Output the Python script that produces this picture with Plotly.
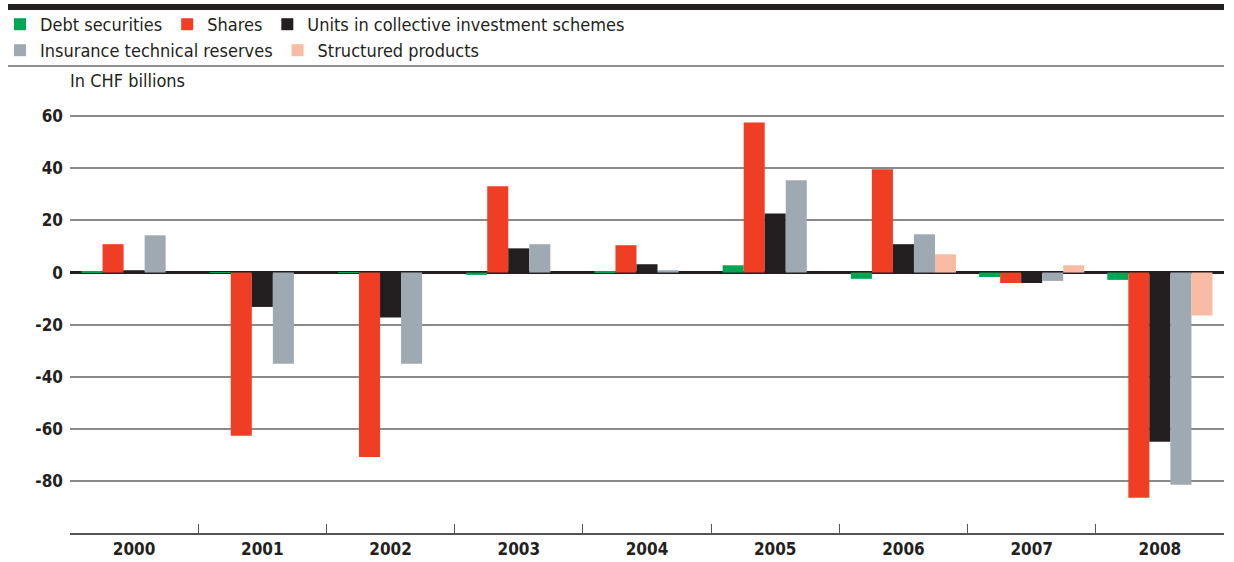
import plotly.graph_objects as go

years = ["2000", "2001", "2002", "2003", "2004", "2005", "2006", "2007", "2008"]
debt = [0.4, 0.2, 0.2, -0.9, 0.3, 2.8, -2.4, -1.7, -2.8]
shares = [10.9, -62.7, -70.8, 33.1, 10.5, 57.6, 39.7, -4.0, -86.5]
units = [0.9, -13.2, -17.3, 9.3, 3.2, 22.7, 10.9, -4.0, -65.0]
insurance = [14.3, -35.0, -35.0, 10.9, 0.9, 35.4, 14.7, -3.2, -81.5]
structured = [None, None, None, None, None, None, 7.0, 2.8, -16.5]

y_ticks = [-80, -60, -40, -20, 0, 20, 40, 60]

series = [
    ("Debt securities", debt, "#00a651", "legend"),
    ("Shares", shares, "#ef3e23", "legend"),
    ("Units in collective investment schemes", units, "#231f20", "legend"),
    ("Insurance technical reserves", insurance, "#9fa9b2", "legend2"),
    ("Structured products", structured, "#f8bba3", "legend2"),
]

FONT = "Liberation Sans Narrow, Arial Narrow, DejaVu Sans Condensed, Liberation Sans, sans-serif"
DARK = "#231f20"

fig = go.Figure()
for name, vals, color, lg in series:
    fig.add_trace(go.Bar(x=years, y=vals, name=name, marker=dict(color=color, line=dict(width=0)),
                         legend=lg))

PLOT_H = 533 - 115

fig.update_layout(
    width=1234, height=562,
    margin=dict(l=70, r=10, t=115, b=29, autoexpand=False),
    paper_bgcolor="white", plot_bgcolor="white",
    font=dict(family=FONT, color=DARK, size=17),
    barmode="group", bargap=0.18, bargroupgap=0,
    showlegend=True,
    legend=dict(orientation="h", xref="container", yref="container", x=-8 / 1234, y=1 - 6 / 562,
                xanchor="left", yanchor="top", font=dict(size=18, family=FONT, color=DARK),
                itemwidth=30, bgcolor="rgba(0,0,0,0)", traceorder="normal"),
    legend2=dict(orientation="h", xref="container", yref="container", x=-8 / 1234, y=1 - 32 / 562,
                 xanchor="left", yanchor="top", font=dict(size=18, family=FONT, color=DARK),
                 itemwidth=30, bgcolor="rgba(0,0,0,0)", traceorder="normal"),
    xaxis=dict(type="category", tickson="boundaries", ticks="inside", ticklen=9, tickwidth=1.2,
               tickcolor="#555", showline=True, linecolor="#555", linewidth=1.5, showgrid=False,
               automargin=False, ticklabelstandoff=0,
               tickfont=dict(size=17, family=FONT, color=DARK, weight="bold"), fixedrange=True),
    yaxis=dict(range=[-100, 60.5], tickvals=y_ticks, ticktext=[str(v) for v in y_ticks],
               showgrid=True, gridcolor="#8a8a8a", gridwidth=1.5, zeroline=True,
               zerolinecolor=DARK, zerolinewidth=2.5, ticks="", showline=False, automargin=False,
               tickfont=dict(size=17, family=FONT, color=DARK, weight="bold"), ticklabelstandoff=6),
    shapes=[
        dict(type="rect", xref="paper", yref="paper", x0=-62 / 1154, x1=1.0,
             y0=(533 - 4) / PLOT_H, y1=(533 - 10) / PLOT_H, fillcolor="#231f20", line=dict(width=0)),
        dict(type="line", xref="paper", yref="paper", x0=-62 / 1154, x1=1.0,
             y0=(533 - 66) / PLOT_H, y1=(533 - 66) / PLOT_H, line=dict(color=DARK, width=1.2)),
    ],
    annotations=[
        dict(text="In CHF billions", xref="paper", yref="paper", x=0, y=(533 - 81) / PLOT_H,
             xanchor="left", yanchor="middle", showarrow=False, xshift=-2,
             font=dict(size=18, family=FONT, color=DARK)),
    ],
)

fig.write_html("out.html")
